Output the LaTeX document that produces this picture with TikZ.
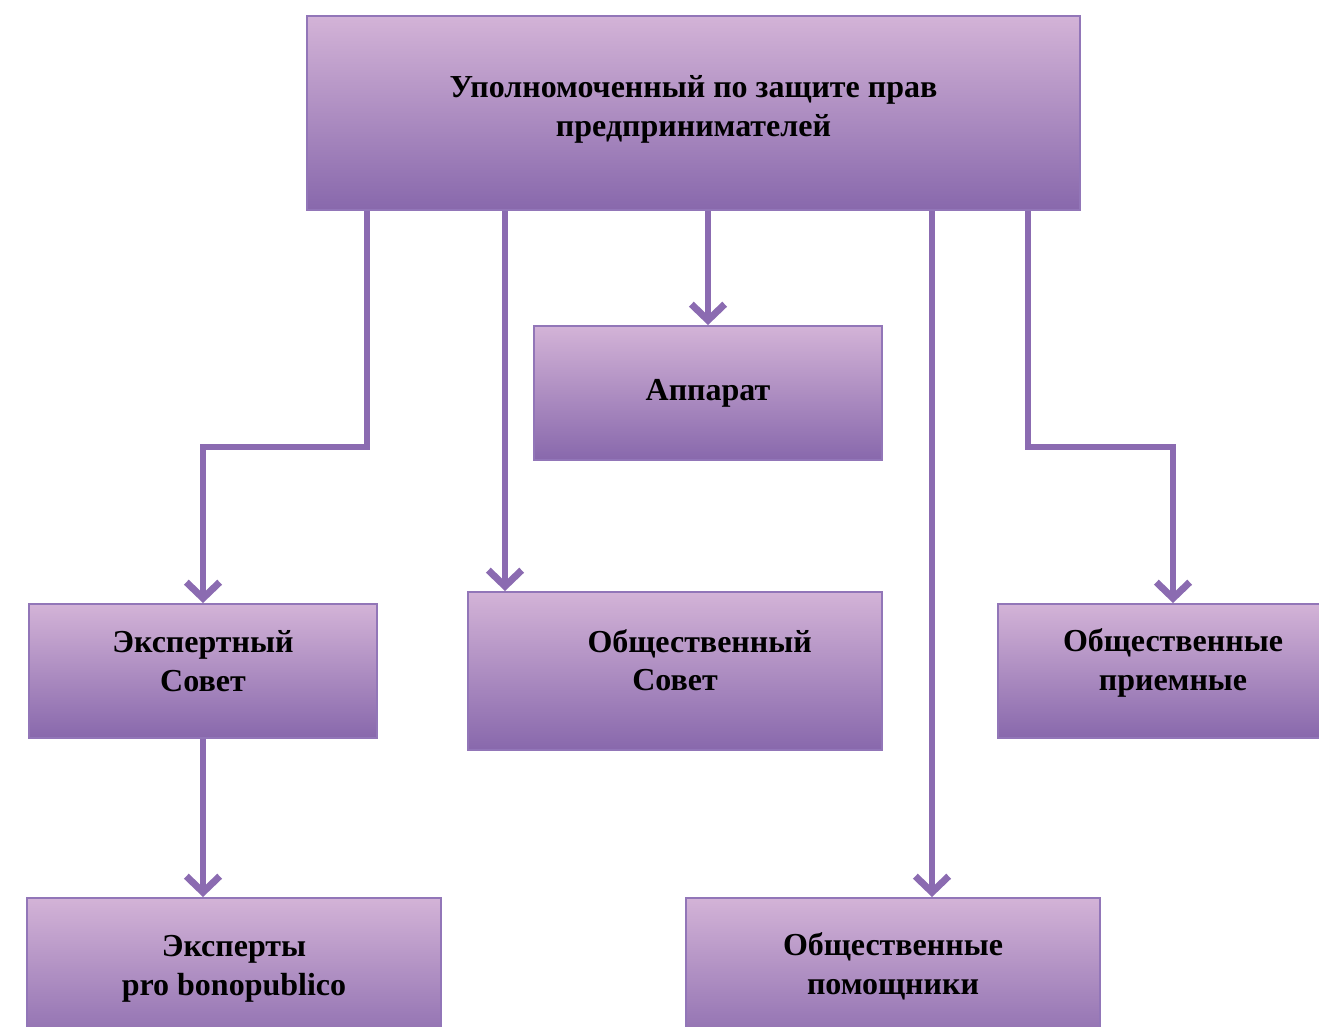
\documentclass[tikz,border=0pt]{standalone}
\usepackage{fontspec}
\setmainfont{Liberation Serif}
\usetikzlibrary{arrows.meta}

\definecolor{boxtop}{RGB}{211,179,215}
\definecolor{boxbot}{RGB}{136,104,172}
\definecolor{boxline}{RGB}{146,118,184}
\definecolor{arrline}{RGB}{139,107,177}

\begin{document}
\begin{tikzpicture}[x=0.75pt,y=-0.75pt,
  box/.style={draw=boxline, line width=1.5pt, top color=boxtop, bottom color=boxbot,
    font=\bfseries\fontsize{24}{29}\selectfont, align=center, inner sep=0pt},
  lift/.style={text depth=#1},
  link/.style={draw=arrline, line width=5.2pt, -{Straight Barb[length=12pt,width=25pt]}}]

\useasboundingbox (0,0) rectangle (1319,1026);
\clip (0,0) rectangle (1319,1026);

% top box
\node[box, lift=11pt, minimum width=773*0.75pt, minimum height=194*0.75pt] (boss) at (693.5,113)
  {Уполномоченный по защите прав\\предпринимателей};

% second level
\node[box, minimum width=348*0.75pt, minimum height=134*0.75pt] (apparat) at (708,393) {Аппарат};

% third level
\node[box, lift=15pt, minimum width=348*0.75pt, minimum height=134*0.75pt] (expert) at (203,671) {Экспертный\\Совет};
\node[box, lift=16.5pt, minimum width=414*0.75pt, minimum height=158*0.75pt] (sovet) at (675,671)
  {\hspace*{37pt}Общественный\\Совет};
\node[box, lift=17.5pt, minimum width=350*0.75pt, minimum height=134*0.75pt] (priem) at (1173,671) {Общественные\\приемные};

% bottom level
\node[box, lift=17pt, minimum width=414*0.75pt, minimum height=158*0.75pt] (experts) at (234,977) {Эксперты\\pro bonopublico};
\node[box, lift=20.5pt, minimum width=414*0.75pt, minimum height=158*0.75pt] (pomosh) at (893,977) {Общественные\\помощники};

% bends and taps of the connectors
\coordinate (elbowL) at (367,447);
\coordinate (elbowR) at (1028,447);
\coordinate (tapS) at (505,0);
\coordinate (tapP) at (932,0);

\draw[link] (boss.south -| elbowL) -- (elbowL) -| (expert.north);
\draw[link] (boss.south -| tapS) -- (sovet.north -| tapS);
\draw[link] (boss.south -| apparat.north) -- (apparat.north);
\draw[link] (boss.south -| tapP) -- (pomosh.north -| tapP);
\draw[link] (boss.south -| elbowR) -- (elbowR) -| (priem.north);
\draw[link] (expert.south) -- (experts.north -| expert.south);

\end{tikzpicture}
\end{document}
